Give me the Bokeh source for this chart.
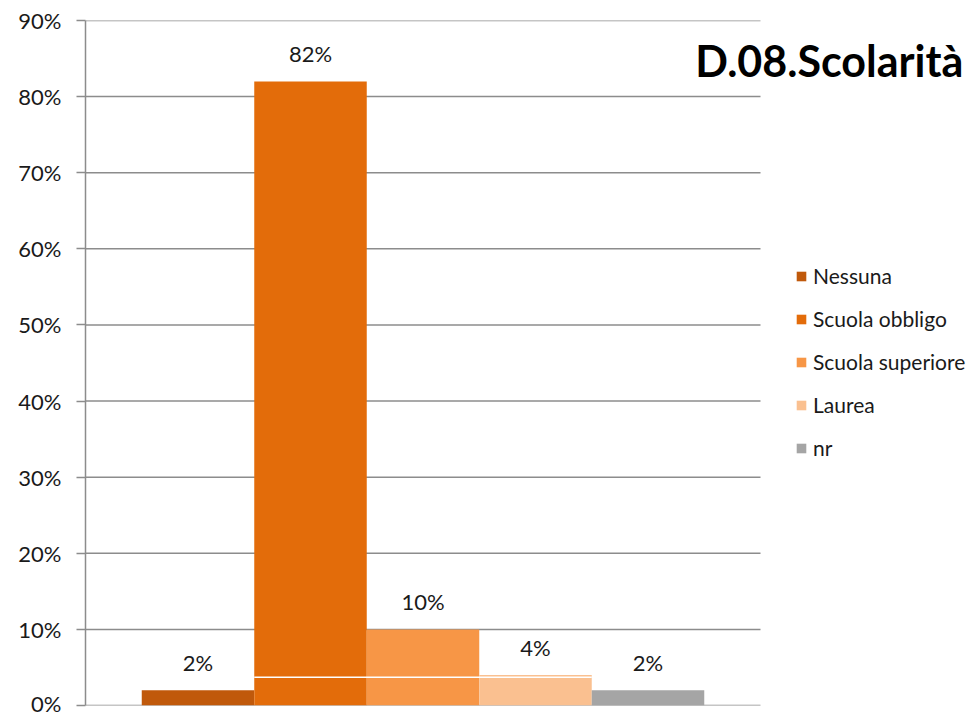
from bokeh.plotting import figure
from bokeh.models import (Range1d, FixedTicker, NumeralTickFormatter, ColumnDataSource,
                          LabelSet, Label, Legend, LegendItem)
from bokeh.core.properties import value
from bokeh.embed import file_html
from bokeh.resources import INLINE

categories = ["Nessuna", "Scuola obbligo", "Scuola superiore", "Laurea", "nr"]
values = [0.02, 0.82, 0.10, 0.04, 0.02]
labels = ["2%", "82%", "10%", "4%", "2%"]
colors = ["#C0590B", "#E36C0A", "#F79646", "#FAC090", "#A5A5A5"]
y_ticks = [0.0, 0.1, 0.2, 0.3, 0.4, 0.5, 0.6, 0.7, 0.8, 0.9]
title_text = "D.08.Scolarità"
divider_level = [0.037]

FONT = "Lato"
GRID = "#8C8C8C"

# plot area spans 0..6 in x; frame extended to the right to host title & legend
X_END = 6.0
X_MAX = 893 / 112.5

p = figure(width=978, height=716, output_backend="svg", toolbar_location=None,
           x_range=Range1d(0, X_MAX), y_range=Range1d(0, 0.9),
           min_border_left=85, min_border_right=0, min_border_top=20, min_border_bottom=11)
p.outline_line_color = None
p.background_fill_color = "white"
p.border_fill_color = "white"
p.xaxis.visible = False
p.xgrid.grid_line_color = None
p.ygrid.grid_line_color = None

# horizontal gridlines across the plot area only
p.segment(x0=[0] * len(y_ticks), x1=[X_END] * len(y_ticks), y0=y_ticks, y1=y_ticks,
          line_color=GRID, line_width=1.5)

ax = p.yaxis[0]
ax.ticker = FixedTicker(ticks=y_ticks)
ax.formatter = NumeralTickFormatter(format="0%")
ax.axis_line_color = GRID
ax.axis_line_width = 1.5
ax.major_tick_line_color = GRID
ax.major_tick_line_width = 1.5
ax.major_tick_out = 9
ax.major_tick_in = 0
ax.minor_tick_line_color = None
ax.major_label_text_font = FONT
ax.major_label_text_font_size = "22px"
ax.major_label_text_color = "#1a1a1a"
ax.major_label_standoff = 15

xs = list(range(1, len(categories) + 1))
items = []
for i, (c, v, col) in enumerate(zip(categories, values, colors)):
    r = p.vbar(x=[xs[i]], top=[v], width=1.0, fill_color=col, line_color=None)
    items.append(LegendItem(label=c, renderers=[r]))

# thin white line crossing the middle bars (as in the reference)
p.segment(x0=[xs[1] - 0.5], x1=[xs[3] + 0.5], y0=divider_level, y1=divider_level,
          line_color="white", line_width=1.5)

src = ColumnDataSource(dict(x=xs, y=values, t=labels))
p.add_layout(LabelSet(x="x", y="y", text="t", source=src, text_align="center",
                      text_baseline="bottom", y_offset=14, text_font=value(FONT),
                      text_font_size=value("22px"), text_color=value("#1a1a1a")))

p.add_layout(Label(x=5.42, y=0.8475, text=title_text, text_font=FONT,
                   text_font_style="bold", text_font_size="43px",
                   text_baseline="middle", text_align="left", text_color="black"))

legend = Legend(items=items, location=(710, 245), orientation="vertical",
                glyph_width=12, glyph_height=12, label_height=21, spacing=18,
                label_standoff=6, padding=0, margin=0,
                label_text_font=FONT, label_text_font_size="21px",
                label_text_color="#1a1a1a", background_fill_alpha=0,
                border_line_color=None)
p.add_layout(legend, "center")

open("out.html", "w").write(file_html(p, INLINE))
